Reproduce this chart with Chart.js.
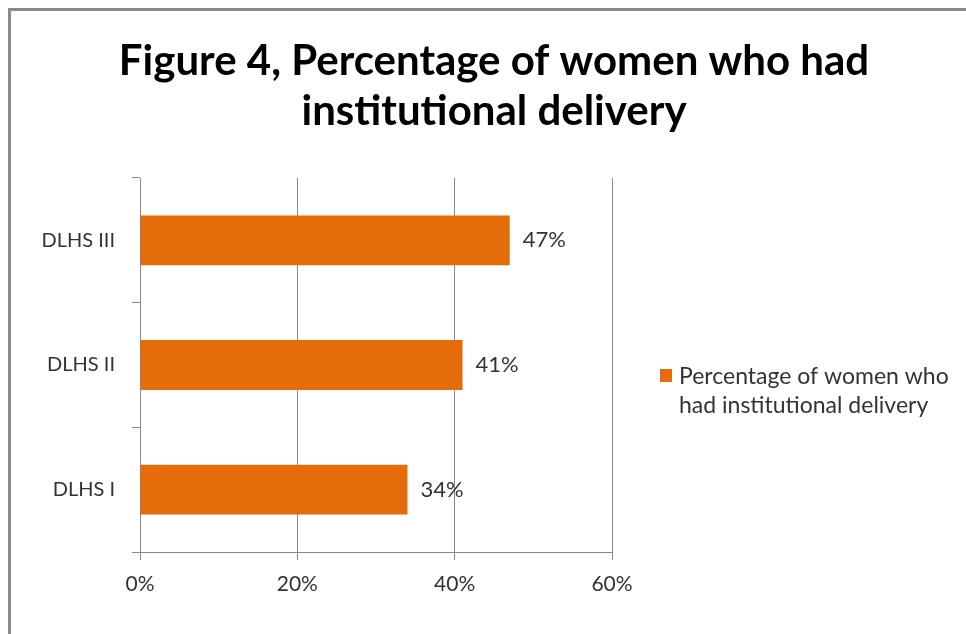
<!DOCTYPE html>
<html>
<head>
<meta charset="utf-8">
<script src="https://cdn.jsdelivr.net/npm/chart.js@4"></script>
<style>
html,body{margin:0;padding:0;background:#fff;}
#wrap{width:966px;height:634px;position:relative;}
</style>
</head>
<body>
<div id="wrap"><canvas id="c" width="966" height="634"></canvas></div>
<script>
const titleLines = ["Figure 4, Percentage of women who had", "institutional delivery"];
const categories = ["DLHS III", "DLHS II", "DLHS I"];
const seriesName = "Percentage of women who had institutional delivery";
const legendLines = ["Percentage of women who", "had institutional delivery"];
const values = [47, 41, 34];
const tickValues = [0, 20, 40, 60];

const ORANGE = "#E46C0A";
const FONT = "Lato, 'Open Sans', sans-serif";

const framePlugin = {
  id: "frame",
  beforeDraw(chart) {
    const ctx = chart.ctx;
    ctx.save();
    ctx.fillStyle = "#fff";
    ctx.fillRect(0, 0, chart.width, chart.height);
    ctx.strokeStyle = "#8a8a8a";
    ctx.lineWidth = 3;
    ctx.strokeRect(9.5, 9.5, chart.width + 20, chart.height + 20);
    ctx.restore();
  }
};

const titlePlugin = {
  id: "titleText",
  afterDraw(chart) {
    const ctx = chart.ctx;
    ctx.save();
    ctx.fillStyle = "#000";
    ctx.font = "bold 42px " + FONT;
    ctx.textAlign = "center";
    ctx.textBaseline = "middle";
    ctx.fillText(titleLines[0], 494, 61);
    ctx.fillText(titleLines[1], 494, 111);
    ctx.restore();
  }
};

const labelPlugin = {
  id: "barLabels",
  afterDatasetsDraw(chart) {
    const ctx = chart.ctx;
    const meta = chart.getDatasetMeta(0);
    ctx.save();
    ctx.fillStyle = "#333";
    ctx.font = "22px " + FONT;
    ctx.textAlign = "left";
    ctx.textBaseline = "middle";
    meta.data.forEach((bar, i) => {
      ctx.fillText(values[i] + "%", bar.x + 13, bar.y);
    });
    ctx.restore();
  }
};

const legendPlugin = {
  id: "legendBox",
  afterDraw(chart) {
    const ctx = chart.ctx;
    ctx.save();
    ctx.fillStyle = ORANGE;
    ctx.fillRect(660, 369, 12, 13);
    ctx.fillStyle = "#333";
    ctx.font = "23px " + FONT;
    ctx.textAlign = "left";
    ctx.textBaseline = "middle";
    ctx.fillText(legendLines[0], 679, 377);
    ctx.fillText(legendLines[1], 679, 406);
    ctx.restore();
  }
};

new Chart(document.getElementById("c"), {
  type: "bar",
  data: {
    labels: categories,
    datasets: [{
      label: seriesName,
      data: values,
      backgroundColor: ORANGE,
      borderWidth: 0,
      barPercentage: 0.4,
      categoryPercentage: 1
    }]
  },
  options: {
    indexAxis: "y",
    responsive: false,
    animation: false,
    layout: { padding: { top: 178, right: 354, left: 0, bottom: 0 } },
    plugins: { legend: { display: false }, title: { display: false }, tooltip: { enabled: false } },
    scales: {
      x: {
        min: 0, max: 60,
        afterBuildTicks(scale) { scale.ticks = tickValues.map(v => ({ value: v })); },
        afterFit(scale) { scale.height = 82; },
        ticks: {
          callback: v => v + "%",
          color: "#333",
          font: { family: FONT, size: 21 },
          padding: 12
        },
        grid: { color: "#8a8a8a", lineWidth: 1, tickLength: 8, drawTicks: true },
        border: { display: true, color: "#8a8a8a", width: 1 }
      },
      y: {
        afterFit(scale) { scale.width = 140; },
        ticks: {
          color: "#333",
          font: { family: FONT, size: 20 },
          padding: 17
        },
        grid: { offset: true, drawOnChartArea: false, color: "#8a8a8a", tickLength: 8 },
        border: { display: true, color: "#8a8a8a", width: 1 }
      }
    }
  },
  plugins: [framePlugin, titlePlugin, labelPlugin, legendPlugin]
});
</script>
</body>
</html>
